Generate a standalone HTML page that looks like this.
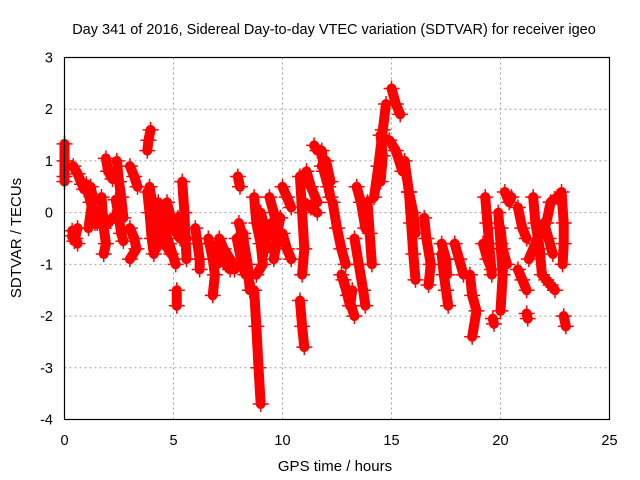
<!DOCTYPE html>
<html><head><meta charset="utf-8"><style>
body{margin:0;background:#fff;width:640px;height:480px;overflow:hidden}
svg{display:block;font-family:"Liberation Sans",sans-serif}
</style></head><body>
<svg id="chart" width="640" height="480">
<text x="334" y="34" text-anchor="middle" font-size="14.5" fill="#000">Day 341 of 2016, Sidereal Day-to-day VTEC variation (SDTVAR) for receiver igeo</text>
<text x="335" y="471" text-anchor="middle" font-size="15">GPS time / hours</text>
<text transform="translate(21,238) rotate(-90)" text-anchor="middle" font-size="15">SDTVAR / TECUs</text>
<g id="grid"></g><g id="ticks"></g><g id="marks"></g>
<rect x="64.5" y="57.5" width="545" height="362" fill="none" stroke="#000" stroke-width="1.2"/>
</svg>
<script>
const xTicks=[0,5,10,15,20,25];
const yTicks=[3,2,1,0,-1,-2,-3,-4];
const tracks=[
[[0,1.33],[0,1.0],[0,0.7],[0,0.6]],
[[0.4,0.9],[0.6,0.75],[0.8,0.55],[0.9,0.45]],
[[0.35,-0.35],[0.5,-0.5],[0.6,-0.6]],
[[0.6,-0.3],[0.45,-0.55],[0.35,-0.45]],
[[1.0,0.55],[1.2,0.2],[1.35,0.0],[1.5,-0.2]],
[[1.2,0.5],[1.3,0.3],[1.1,-0.3]],
[[1.4,-0.2],[1.7,-0.15],[2.0,-0.2],[2.2,-0.1]],
[[1.7,0.3],[1.8,-0.3],[1.9,-0.6],[1.8,-0.8]],
[[1.9,1.05],[2.0,0.8],[2.2,0.65]],
[[2.4,1.0],[2.5,0.6],[2.6,0.3],[2.7,-0.1]],
[[2.35,0.25],[2.5,-0.1],[2.6,-0.4],[2.7,-0.55]],
[[3.0,0.9],[3.2,0.7],[3.35,0.5]],
[[3.0,-0.3],[3.2,-0.5],[3.3,-0.7],[3.0,-0.9]],
[[3.8,1.2],[3.85,1.4],[3.95,1.6]],
[[3.8,0.4],[3.9,0.0],[4.0,-0.5],[4.1,-0.8]],
[[3.9,0.5],[4.1,0.0],[4.3,-0.3],[4.2,-0.7]],
[[4.3,0.2],[4.5,-0.2],[4.8,-0.6],[5.1,-1.0]],
[[4.4,-0.4],[4.6,-0.6],[4.9,-0.8]],
[[4.7,0.2],[5.0,-0.3],[5.3,-0.5]],
[[5.15,-1.5],[5.15,-1.8]],
[[5.4,0.6],[5.5,0.0],[5.55,-0.5],[5.6,-0.9]],
[[5.2,-0.1],[5.35,-0.3],[5.6,-0.5]],
[[6.0,-0.3],[6.1,-0.6],[6.2,-0.9],[6.2,-1.1]],
[[6.6,-0.5],[6.8,-0.9],[6.9,-1.2],[6.8,-1.6]],
[[6.7,-0.6],[6.9,-0.7],[7.0,-1.0]],
[[7.1,-0.5],[7.3,-0.7],[7.6,-0.9],[7.8,-1.1]],
[[7.2,-0.8],[7.4,-1.0],[7.6,-1.1]],
[[7.95,0.7],[8.05,0.5]],
[[8.0,-0.2],[8.2,-0.5],[8.4,-1.0],[8.5,-1.5]],
[[7.9,-0.5],[8.1,-0.9],[8.3,-1.2],[8.2,-0.4]],
[[8.7,-1.5],[8.8,-2.2],[8.9,-3.0],[9.0,-3.7]],
[[8.7,0.3],[8.8,-0.2],[9.0,-0.6],[9.1,-1.0],[8.8,-1.2]],
[[9.0,0.0],[9.2,-0.3],[9.3,-0.7]],
[[9.4,0.3],[9.6,0.0],[9.8,-0.4],[9.6,-0.9]],
[[9.5,-0.2],[9.7,-0.5],[9.9,-0.1]],
[[10.0,0.5],[10.2,0.3],[10.4,0.1]],
[[10.0,-0.4],[10.2,-0.7],[10.4,-0.9]],
[[10.8,0.7],[10.9,0.0],[11.0,-0.7],[10.9,-1.2]],
[[10.8,-1.7],[10.9,-2.2],[11.0,-2.6]],
[[11.1,0.8],[11.3,0.5],[11.6,0.2]],
[[11.0,0.2],[11.3,0.1],[11.6,0.0]],
[[11.45,1.3],[11.6,1.2]],
[[11.8,1.2],[11.9,0.8],[12.1,0.5],[12.2,0.3]],
[[11.8,0.9],[12.0,1.0],[12.2,0.6]],
[[12.3,0.2],[12.5,-0.3],[12.7,-0.7],[12.9,-1.0]],
[[12.7,-1.2],[13.0,-1.6],[13.3,-2.0]],
[[12.8,-1.3],[13.1,-1.8],[13.2,-1.5]],
[[13.3,-0.5],[13.5,-1.0],[13.7,-1.5],[13.8,-1.8]],
[[13.4,0.5],[13.6,0.2],[13.8,-0.3]],
[[13.9,0.2],[14.0,-0.4],[14.1,-1.0]],
[[14.2,0.3],[14.4,0.9],[14.6,1.6],[14.75,2.1]],
[[14.5,0.6],[14.6,1.1],[14.5,1.5]],
[[15.0,2.4],[15.2,2.1],[15.4,1.9]],
[[14.9,1.4],[15.2,1.2],[15.5,0.8]],
[[15.6,1.0],[15.8,0.4],[16.0,0.0],[16.1,-0.4]],
[[15.8,0.4],[15.9,-0.2],[16.0,-0.8],[16.1,-1.3]],
[[16.5,-0.1],[16.6,-0.5],[16.8,-1.0],[16.7,-1.4]],
[[17.3,-0.8],[17.4,-1.2],[17.5,-1.5],[17.6,-1.8]],
[[17.3,-0.6],[17.5,-0.9],[17.55,-1.2]],
[[17.9,-0.6],[18.1,-0.9],[18.3,-1.2]],
[[18.6,-1.2],[18.7,-1.6],[18.9,-1.9],[18.7,-2.4]],
[[19.3,0.3],[19.4,-0.2],[19.5,-0.7],[19.6,-1.2]],
[[19.2,-0.6],[19.4,-0.9],[19.6,-1.1]],
[[19.65,-2.05],[19.7,-2.15]],
[[19.9,0.0],[20.0,-0.6],[20.1,-1.2],[20.0,-1.9]],
[[20.0,-0.3],[20.1,-0.7],[20.3,-1.0]],
[[20.2,0.4],[20.4,0.2],[20.5,0.3]],
[[20.8,0.1],[21.0,-0.3],[21.2,-0.5]],
[[20.8,-1.1],[21.0,-1.3],[21.2,-1.5]],
[[21.2,-1.95],[21.25,-2.05]],
[[21.5,0.3],[21.6,-0.2],[21.8,-0.7],[21.9,-1.2]],
[[21.3,-0.9],[21.6,-0.6],[21.9,-0.3]],
[[22.0,-0.2],[22.2,-0.5],[22.4,-0.8]],
[[22.1,-0.2],[22.3,0.2],[22.6,0.3]],
[[22.1,-1.3],[22.3,-1.4],[22.5,-1.5]],
[[22.8,0.4],[22.9,-0.2],[22.9,-0.6],[22.85,-1.0]],
[[22.9,-2.0],[23.0,-2.2]]
];
const NS="http://www.w3.org/2000/svg";
const X0=64.5,X1=609.5,Y0=57.5,Y1=419.5;
function xs(t){return X0+(t-0)/(25-0)*(X1-X0);}
function ys(v){return Y1-(v-(-4))/(3-(-4))*(Y1-Y0);}
const grid=document.getElementById('grid'),ticks=document.getElementById('ticks'),marks=document.getElementById('marks');
function mk(tag,attrs,parent){const e=document.createElementNS(NS,tag);for(const k in attrs)e.setAttribute(k,attrs[k]);parent.appendChild(e);return e;}
xTicks.forEach(t=>{
 const x=xs(t);
 if(t>0&&t<25){const g=mk('line',{x1:x,x2:x,y1:Y0,y2:Y1,stroke:'#a0a0a0','stroke-dasharray':'2,3','stroke-width':1},grid);
 
 }
 const tx=mk('text',{x:x,y:445,'text-anchor':'middle','font-size':14.5},ticks);tx.textContent=t;
 
 
});
yTicks.forEach(v=>{
 const y=ys(v);
 if(v>-4&&v<3){const g=mk('line',{x1:X0,x2:X1,y1:y,y2:y,stroke:'#a0a0a0','stroke-dasharray':'2,3','stroke-width':1},grid);
 
 }
 const tx=mk('text',{x:53,y:y+5,'text-anchor':'end','font-size':14.5},ticks);tx.textContent=v;
 
 
});
tracks.forEach((tr,i)=>{
 const pts=tr.map(p=>xs(p[0])+','+ys(p[1])).join(' ');
 const pl=mk('polyline',{points:pts,fill:'none',stroke:'#ff0000','stroke-width':10,'stroke-linecap':'round','stroke-linejoin':'round'},marks);
 
 
 tr.forEach(p=>{
  const x=xs(p[0]),y=ys(p[1]);
  const m=mk('path',{d:`M${x-8},${y}H${x+8}M${x},${y-8}V${y+8}`,stroke:'#ff0000','stroke-width':1.5},marks);
  
  
 });
});
</script>
</body></html>
